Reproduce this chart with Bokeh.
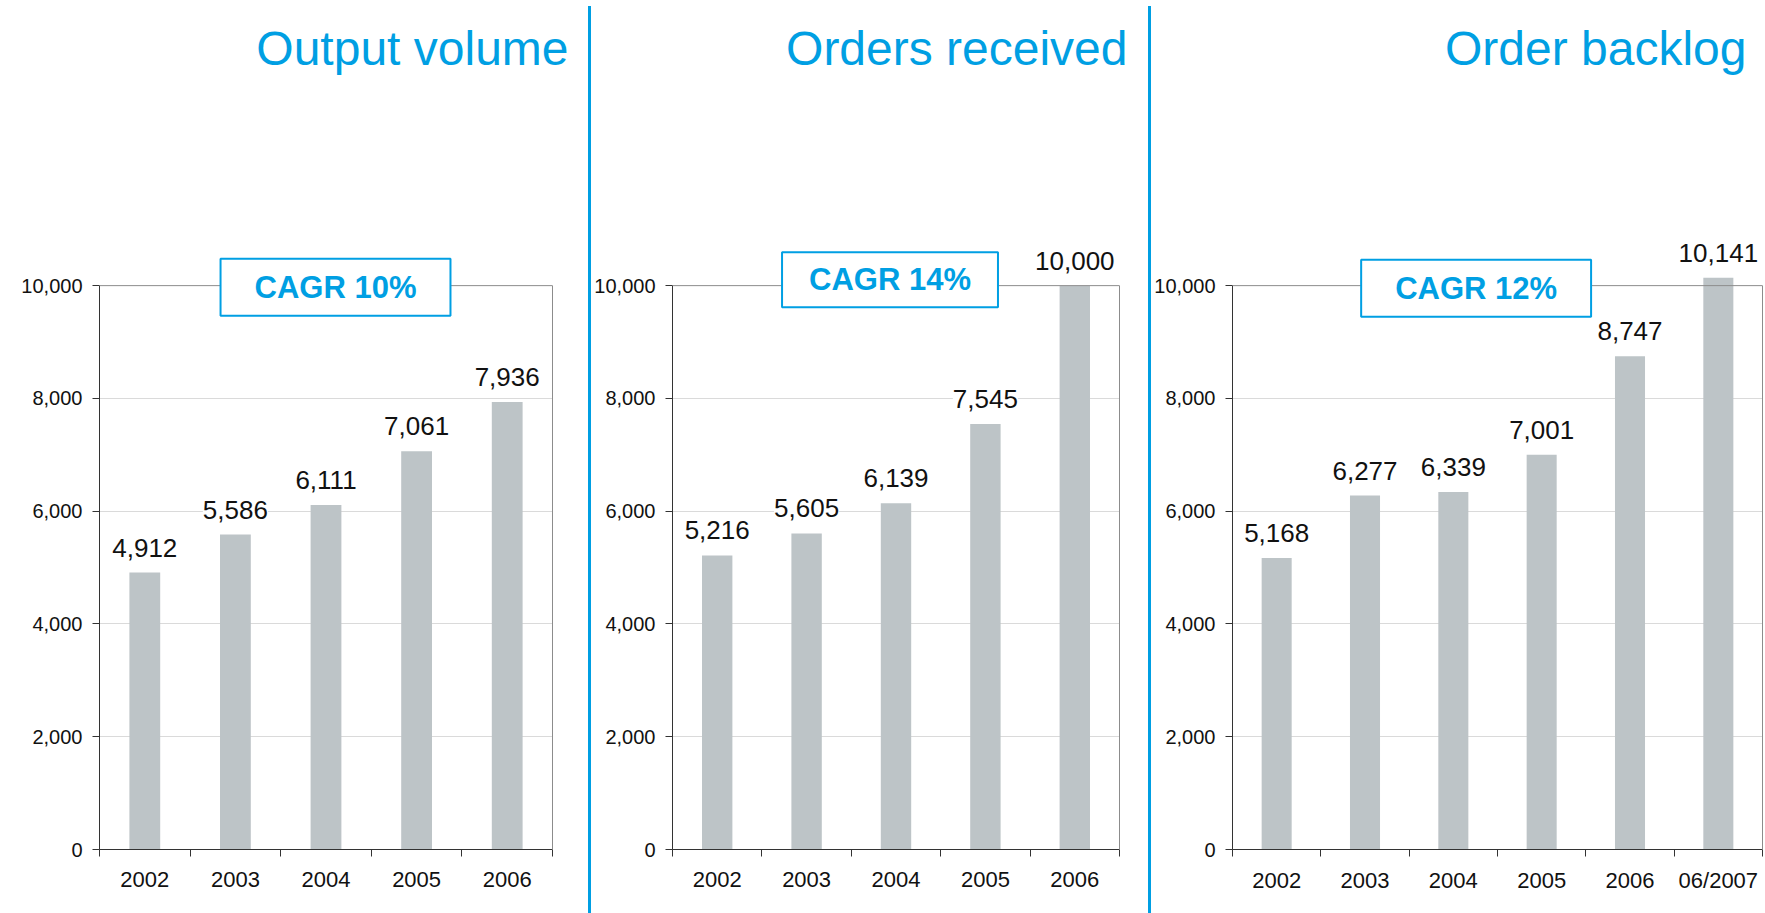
from bokeh.plotting import figure
from bokeh.models import (ColumnDataSource, LabelSet, Label, FixedTicker, Range1d,
                          NumeralTickFormatter, Span, Div, Title, LinearAxis)
from bokeh.layouts import row
from bokeh.core.properties import value
from bokeh.embed import file_html
from bokeh.resources import INLINE

# ---- data ----
years_a = ["2002", "2003", "2004", "2005", "2006"]
years_b = ["2002", "2003", "2004", "2005", "2006", "06/2007"]
output_volume = [4912, 5586, 6111, 7061, 7936]
orders_received = [5216, 5605, 6139, 7545, 10000]
order_backlog = [5168, 6277, 6339, 7001, 8747, 10141]
titles = ["Output volume", "Orders received", "Order backlog"]
cagr_texts = ["CAGR 10%", "CAGR 14%", "CAGR 12%"]
y_ticks = [0, 2000, 4000, 6000, 8000, 10000]
grid_ticks = [2000, 4000, 6000, 8000]
y_top = 10000

# ---- style / layout ----
FONT = "Liberation Sans"
BLUE = "#009FE3"
BAR = "#BDC4C7"
AXIS = "#333333"
FRAME = "#8C8C8C"
FIG_H = 910
ZERO_PX = 848.5      # pixel row of value 0
TOP_PX = 285.0       # pixel row of value 10,000
FRAME_TOP = 84       # top of plotting frame
Y_END = y_top * (ZERO_PX - FRAME_TOP) / (ZERO_PX - TOP_PX)

layouts = [
    dict(w=588, left=99, right=36, toff=-16, cx=2.605, cy=-1.5, pad=dict(x=34, y=11), xs=15),
    dict(w=557, left=80, right=29, toff=-8, cx=2.433, cy=6, pad=dict(x=27, y=10), xs=15),
    dict(w=613, left=78, right=2, toff=16, cx=2.758, cy=-2.5, pad=dict(x=34, y=11), xs=11),
]


def make_chart(cats, vals, title, cagr, lay):
    n = len(cats)
    xs = [i + 0.5 for i in range(n)]
    src = ColumnDataSource(dict(x=xs, top=vals, lab=[f"{v:,}" for v in vals]))
    p = figure(width=lay["w"], height=FIG_H, output_backend="svg", toolbar_location=None,
               x_range=Range1d(0, n), y_range=Range1d(0, Y_END),
               min_border_left=lay["left"], min_border_right=lay["right"],
               min_border_top=FRAME_TOP, min_border_bottom=int(FIG_H - ZERO_PX))
    p.title = Title(text=title, align="right", text_font=FONT, text_font_size="48px",
                    text_font_style="normal", text_color=BLUE, standoff=20, offset=lay["toff"])
    p.outline_line_color = None
    p.background_fill_color = "white"
    p.border_fill_color = "white"

    p.vbar(x="x", top="top", width=0.34, bottom=0, source=src, fill_color=BAR, line_color=None)

    # x axis: labels at category centres, ticks at category boundaries
    xa = p.xaxis[0]
    xa.ticker = FixedTicker(ticks=xs, minor_ticks=list(range(n + 1)))
    xa.major_label_overrides = {x: c for x, c in zip(xs, cats)}
    xa.major_tick_line_color = None
    xa.major_tick_out = 7
    xa.major_tick_in = 0
    xa.minor_tick_line_color = AXIS
    xa.minor_tick_out = 7
    xa.minor_tick_in = 0
    xa.axis_line_color = AXIS
    xa.major_label_text_font = FONT
    xa.major_label_text_font_size = "22px"
    xa.major_label_text_color = "#111111"
    xa.major_label_standoff = lay["xs"]

    ya = p.yaxis[0]
    ya.bounds = (0, y_top)
    ya.ticker = FixedTicker(ticks=y_ticks)
    ya.formatter = NumeralTickFormatter(format="0,0")
    ya.major_tick_out = 7
    ya.major_tick_in = 0
    ya.major_tick_line_color = AXIS
    ya.minor_tick_line_color = None
    ya.axis_line_color = AXIS
    ya.major_label_text_font = FONT
    ya.major_label_text_font_size = "20px"
    ya.major_label_text_color = "#111111"
    ya.major_label_standoff = 10

    # right border of the chart box
    ra = LinearAxis(bounds=(0, y_top), ticker=FixedTicker(ticks=[]), axis_line_color=FRAME,
                    major_tick_line_color=None, minor_tick_line_color=None,
                    major_tick_out=0, major_tick_in=0, minor_tick_out=0,
                    major_label_text_font_size="0px", major_label_standoff=0)
    p.add_layout(ra, "right")

    p.xgrid.grid_line_color = None
    p.ygrid.ticker = FixedTicker(ticks=grid_ticks)
    p.ygrid.grid_line_color = "#DADADA"
    p.ygrid.grid_line_width = 1
    # top border of the chart box
    p.add_layout(Span(location=y_top, dimension="width", line_color=FRAME, line_width=1))

    labels = LabelSet(x="x", y="top", text="lab", source=src, text_align="center",
                      text_baseline="alphabetic", y_offset=16, text_font=value(FONT),
                      text_font_size="26px", text_color="#111111",
                      background_fill_color="white")
    p.add_layout(labels)

    box = Label(x=lay["cx"], y=y_top, y_offset=lay["cy"], text=cagr, text_align="center",
                text_baseline="middle", text_font=FONT, text_font_size="31px",
                text_font_style="bold", text_color=BLUE, background_fill_color="white",
                border_line_color=BLUE, border_line_width=2, padding=lay["pad"])
    p.add_layout(box)
    return p


p1 = make_chart(years_a, output_volume, titles[0], cagr_texts[0], layouts[0])
p2 = make_chart(years_a, orders_received, titles[1], cagr_texts[1], layouts[1])
p3 = make_chart(years_b, order_backlog, titles[2], cagr_texts[2], layouts[2])


def divider():
    return Div(text="", width=3, height=FIG_H, margin=(6, 0, 0, 0),
               styles={"background-color": BLUE})


layout = row(p1, divider(), p2, divider(), p3, spacing=0)
open("out.html", "w").write(file_html(layout, INLINE))
